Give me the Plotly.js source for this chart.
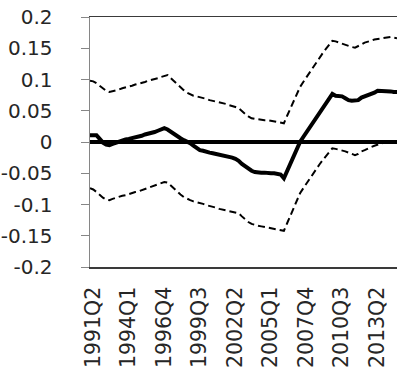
<!DOCTYPE html>
<html>
<head>
<meta charset="utf-8">
<script src="https://cdn.plot.ly/plotly-3.0.1.min.js"></script>
<style>html,body{margin:0;padding:0;background:#fff;}#chart{width:397px;height:371px;}</style>
</head>
<body>
<div id="chart"></div>
<script>
// Quarter categories 1991Q2 .. 2015Q1
const quarters = [];
(function(){
  let y = 1991, q = 2;
  for (let k = 0; k < 96; k++) {
    quarters.push(y + 'Q' + q);
    q++; if (q > 4) { q = 1; y++; }
  }
})();

const tickLabels = ['1991Q2','1994Q1','1996Q4','1999Q3','2002Q2','2005Q1','2007Q4','2010Q3','2013Q2'];
const yTickVals = [-0.2,-0.15,-0.1,-0.05,0,0.05,0.1,0.15,0.2];
const yTickText = ['-0.2','-0.15','-0.1','-0.05','0','0.05','0.1','0.15','0.2'];

const central = [
 0.011,0.011,0.011,0.005,-0.001,-0.004,-0.005,-0.003,-0.001,0.001,
 0.003,0.004,0.005,0.006,0.008,0.009,0.010,0.012,0.013,0.015,
 0.016,0.018,0.020,0.022,0.020,0.016,0.012,0.010,0.006,0.003,
 0.001,-0.002,-0.006,-0.010,-0.013,-0.014,-0.016,-0.017,-0.018,-0.019,
 -0.020,-0.021,-0.022,-0.024,-0.025,-0.027,-0.030,-0.035,-0.039,-0.043,
 -0.046,-0.048,-0.049,-0.049,-0.049,-0.050,-0.050,-0.050,-0.051,-0.052,
 -0.058,-0.046,-0.034,-0.022,-0.011,0.000,0.008,0.016,0.024,0.031,
 0.039,0.046,0.054,0.062,0.070,0.077,0.074,0.073,0.073,0.070,
 0.067,0.066,0.066,0.067,0.071,0.073,0.074,0.076,0.079,0.082,
 0.082,0.082,0.082,0.081,0.080,0.080
];

const upper = [
 0.098,0.097,0.094,0.090,0.086,0.082,0.080,0.081,0.083,0.084,
 0.086,0.087,0.089,0.090,0.092,0.093,0.095,0.096,0.098,0.099,
 0.101,0.102,0.104,0.106,0.107,0.102,0.097,0.092,0.087,0.083,
 0.079,0.076,0.074,0.073,0.072,0.070,0.069,0.067,0.066,0.065,
 0.063,0.062,0.061,0.059,0.058,0.056,0.054,0.049,0.045,0.041,
 0.038,0.037,0.036,0.036,0.035,0.035,0.034,0.033,0.032,0.031,
 0.030,0.042,0.054,0.066,0.077,0.088,0.096,0.104,0.112,0.120,
 0.127,0.135,0.142,0.149,0.156,0.162,0.161,0.159,0.158,0.156,
 0.154,0.152,0.151,0.153,0.156,0.159,0.160,0.162,0.164,0.165,
 0.166,0.167,0.168,0.168,0.167,0.166
];

const lower = [
 -0.074,-0.076,-0.080,-0.085,-0.089,-0.092,-0.093,-0.091,-0.089,-0.088,
 -0.086,-0.085,-0.083,-0.082,-0.080,-0.079,-0.077,-0.075,-0.074,-0.072,
 -0.070,-0.068,-0.066,-0.064,-0.065,-0.070,-0.075,-0.080,-0.084,-0.088,
 -0.091,-0.093,-0.095,-0.096,-0.097,-0.099,-0.101,-0.102,-0.104,-0.105,
 -0.107,-0.108,-0.109,-0.110,-0.112,-0.113,-0.114,-0.119,-0.124,-0.128,
 -0.131,-0.133,-0.134,-0.135,-0.136,-0.137,-0.138,-0.139,-0.140,-0.141,
 -0.142,-0.130,-0.118,-0.106,-0.094,-0.082,-0.074,-0.066,-0.059,-0.051,
 -0.044,-0.036,-0.029,-0.022,-0.016,-0.010,-0.011,-0.012,-0.013,-0.015,
 -0.017,-0.019,-0.021,-0.019,-0.015,-0.013,-0.010,-0.008,-0.006,-0.004,
 -0.002,-0.001,0.000,0.000,0.000,0.000
];

const yFont = {family: 'DejaVu Sans', size: 20, color: '#262626'};
const xFont = {family: 'DejaVu Sans', size: 20.5, color: '#262626'};

const traces = [
  {x: quarters, y: upper, type: 'scatter', mode: 'lines', line: {color: '#000', width: 2, dash: '7px,4px'}, hoverinfo: 'skip'},
  {x: quarters, y: lower, type: 'scatter', mode: 'lines', line: {color: '#000', width: 2, dash: '7px,4px'}, hoverinfo: 'skip'},
  {x: quarters, y: central, type: 'scatter', mode: 'lines', line: {color: '#000', width: 4}, hoverinfo: 'skip'}
];

const layout = {
  width: 397, height: 371,
  margin: {l: 90, r: 0, t: 17, b: 104, pad: 0},
  paper_bgcolor: '#fff', plot_bgcolor: '#fff',
  showlegend: false,
  font: yFont,
  xaxis: {
    type: 'category',
    categoryorder: 'array', categoryarray: quarters,
    range: [0, quarters.length - 1],
    tickmode: 'array', tickvals: tickLabels, ticktext: tickLabels,
    tickangle: -90,
    ticks: '',
    ticklabelstandoff: 10,
    ticklabelshift: 3,
    showgrid: false, zeroline: false,
    showline: true, mirror: true, linecolor: '#3a3a3a', linewidth: 1.5,
    tickfont: xFont
  },
  yaxis: {
    range: [-0.2, 0.2],
    tickmode: 'array', tickvals: yTickVals, ticktext: yTickText,
    ticks: 'outside', ticklen: 8, tickcolor: '#868686', tickwidth: 1,
    ticklabelstandoff: 24,
    showgrid: false,
    zeroline: true, zerolinecolor: '#000', zerolinewidth: 3.5,
    showline: true, linecolor: '#868686', linewidth: 1.5,
    tickfont: yFont
  }
};

Plotly.newPlot('chart', traces, layout, {staticPlot: true, displayModeBar: false});
</script>
</body>
</html>
